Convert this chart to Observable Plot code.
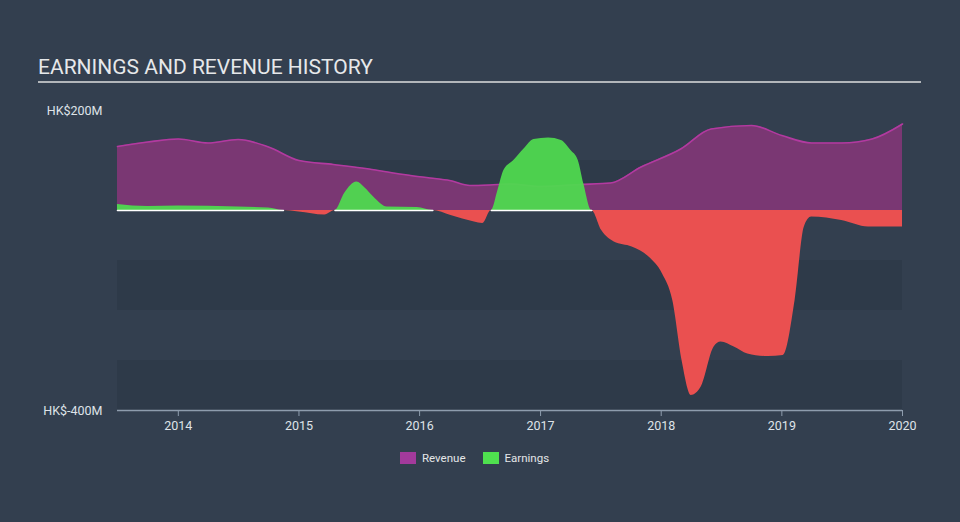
<!DOCTYPE html>
<html>
<head>
<meta charset="utf-8">
<script src="https://cdn.jsdelivr.net/npm/d3@7"></script>
<script src="https://cdn.jsdelivr.net/npm/@observablehq/plot@0.6"></script>
<style>
  html, body { margin: 0; padding: 0; }
  body { width: 960px; height: 522px; background: #333f4f; position: relative; overflow: hidden; font-family: Roboto, "Noto Sans", sans-serif; }
  #title { position: absolute; left: 38px; top: 56px; font-size: 21px; line-height: 23px; color: #e6e8ea; }
  #rule { position: absolute; left: 38px; top: 81px; width: 883px; height: 2px; background: #b2b6ba; }
  #chart { position: absolute; left: 48px; top: 90px; width: 912px; overflow: visible; }
  #legend { position: absolute; left: 400px; top: 451px; font-size: 11.5px; color: #e4e6e8; display: flex; align-items: center; }
  .sw { display: inline-block; width: 16px; height: 12px; margin-right: 6px; }
  .item { display: flex; align-items: center; margin-right: 17px; }
</style>
</head>
<body>
<div id="title">EARNINGS AND REVENUE HISTORY</div>
<div id="rule"></div>
<div id="chart"></div>
<div id="legend"></div>
<script>
// ---- data (HK$ millions) ----
const revenueDates = ["2013-07-01","2013-10-01","2014-01-01","2014-04-01","2014-07-01","2014-10-01","2015-01-01","2015-04-15","2015-08-01","2015-11-01","2016-02-01","2016-04-01","2016-06-01","2016-08-01","2016-10-01","2017-01-01","2017-05-01","2017-08-01","2017-11-01","2018-03-01","2018-06-01","2018-10-01","2019-01-01","2019-04-01","2019-07-01","2019-10-01","2020-01-01"];
const revenueValues = [128,137,143,135,142,127,100,92,83,73,65,60,50,51,53,48,52,55,87,123,163,170,150,135,135,143,173];

const earningsDates = ["2013-07-01","2013-10-01","2014-01-01","2014-07-01","2014-10-01","2014-11-15","2015-01-01","2015-03-20","2015-04-20","2015-05-20","2015-06-25","2015-07-20","2015-08-15","2015-09-25","2015-12-25","2016-02-10","2016-04-05","2016-06-15","2016-07-10","2016-08-05","2016-08-25","2016-09-12","2016-10-12","2016-11-12","2016-12-12","2017-01-25","2017-03-05","2017-04-03","2017-04-25","2017-05-12","2017-06-05","2017-07-05","2017-08-12","2017-10-05","2017-11-25","2018-01-05","2018-02-05","2018-03-05","2018-04-02","2018-05-02","2018-06-10","2018-07-01","2018-08-10","2018-09-20","2018-11-20","2019-01-05","2019-02-10","2019-03-10","2019-04-01","2019-07-01","2019-09-20","2020-01-01"];
const earningsValues = [12,8,9,7,5,0,-3,-9,0,35,57,45,27,7,6,0,-10,-23,-26,0,40,80,100,123,142,145,140,120,100,53,0,-40,-63,-73,-93,-127,-180,-300,-370,-353,-273,-263,-273,-287,-292,-290,-180,-33,-13,-20,-33,-33];

const yTicks = [200, -400];
const bandLow = [0, -200, -400];   // darker bands: [v, v+100]
const seriesNames = ["Revenue", "Earnings"];

// ---- colors ----
const C = {
  bandDark: "#2e3a49",
  revFill: "#7a3773",
  revLine: "#b23aa0",
  green: "#4fd84f",
  red: "#ea5050",
  axis: "#8e9cad",
  text: "#dfe3e8",
  legendRev: "#a33a9c",
  legendEarn: "#4fe04f"
};

const parse = d3.utcParse("%Y-%m-%d");
const revenue = revenueDates.map((d, i) => ({date: parse(d), v: revenueValues[i]}));
const earnings = earningsDates.map((d, i) => ({date: parse(d), v: earningsValues[i]}));
const x0 = parse(revenueDates[0]);
const x1 = parse(revenueDates[revenueDates.length - 1]);
const bands = bandLow.map(v => ({y1: v, y2: v + 100}));

const plot = Plot.plot({
  width: 912,
  height: 350,
  marginLeft: 69,
  marginRight: 58,
  marginTop: 20,
  marginBottom: 30,
  style: {background: "transparent", color: C.text, fontFamily: "Roboto, sans-serif", fontSize: "12.5px", overflow: "visible"},
  x: {type: "utc", domain: [x0, x1]},
  y: {domain: [-400, 200]},
  marks: [
    Plot.rect(bands, {x1: () => x0, x2: () => x1, y1: "y1", y2: "y2", fill: C.bandDark}),
    Plot.areaY(revenue, {x: "date", y: "v", fill: C.revFill, curve: "monotone-x"}),
    Plot.lineY(revenue, {x: "date", y: "v", stroke: C.revLine, strokeWidth: 1.6, curve: "monotone-x"}),
    Plot.areaY(earnings, {x: "date", y: d => Math.max(0, d.v), fill: C.green, fillOpacity: 0.95, curve: "monotone-x"}),
    Plot.areaY(earnings, {x: "date", y: d => Math.min(0, d.v), fill: C.red, curve: "monotone-x"}),
    Plot.lineY(earnings, {x: "date", y: d => d.v >= 0 ? 0 : NaN, stroke: "#ffffff", strokeWidth: 1.6}),
    Plot.ruleY([-400], {x1: () => x0, x2: () => x1, stroke: C.axis, strokeWidth: 1.5}),
    Plot.axisX({ticks: d3.utcYear.every(1), tickFormat: "%Y", tickSize: 6, stroke: C.axis, tickPadding: 5, fill: C.text, label: null}),
    Plot.axisY({ticks: yTicks, tickFormat: d => `HK$${d}M`, tickSize: 0, tickPadding: 15, fill: C.text, label: null})
  ]
});
document.getElementById("chart").appendChild(plot);

const legend = document.getElementById("legend");
const legendColors = [C.legendRev, C.legendEarn];
seriesNames.forEach((name, i) => {
  const item = document.createElement("div");
  item.className = "item";
  const sw = document.createElement("span");
  sw.className = "sw";
  sw.style.background = legendColors[i];
  item.appendChild(sw);
  item.appendChild(document.createTextNode(name));
  legend.appendChild(item);
});
</script>
</body>
</html>
